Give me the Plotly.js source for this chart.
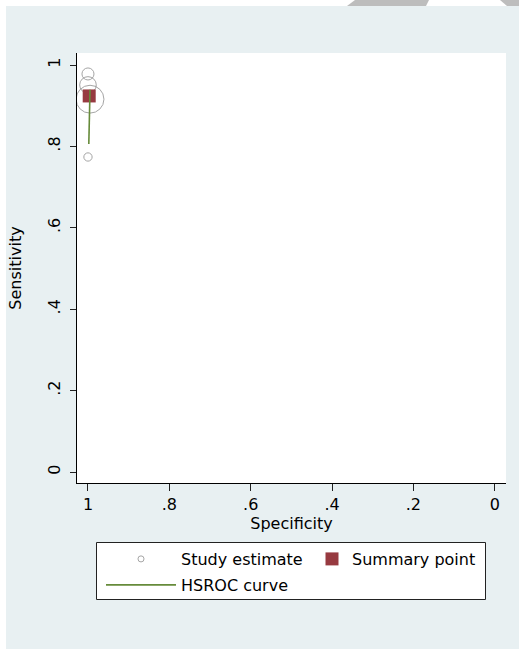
<!DOCTYPE html>
<html><head><meta charset="utf-8">
<script src="https://cdn.plot.ly/plotly-3.0.1.min.js"></script>
<style>html,body{margin:0;padding:0;background:#fff}</style>
</head><body><div id="chart" style="width:519px;height:649px"></div>
<script>
// ---- data ----
const studySpec = [1.0, 1.0, 0.995, 1.0];
const studySens = [0.978, 0.951, 0.916, 0.774];
const studyWeight = [4.5, 6.2, 10.4, 3.1];
const summarySpec = [0.997];
const summarySens = [0.924];
const curveSpec = [0.995, 0.998];
const curveSens = [0.939, 0.806];
const xTickVals = [1, 0.8, 0.6, 0.4, 0.2, 0];
const xTickText = ['1', '.8', '.6', '.4', '.2', '0'];
const yTickVals = [0, 0.2, 0.4, 0.6, 0.8, 1];
const yTickText = ['0', '.2', '.4', '.6', '.8', '1'];

// ---- layout helpers (pixel -> paper) ----
const W = 519, H = 649, ML = 77, MR = 13, MT = 53, MB = 166;
const PW = W - ML - MR, PH = H - MT - MB;
const fx = p => (p - ML) / PW;
const fy = p => (H - MB - p) / PH;
const FONT = 'DejaVu Sans';
const panel = '#e8f0f2';

const traces = [
  {
    type: 'scatter', mode: 'markers', name: 'Study estimate',
    x: studySpec, y: studySens,
    marker: { symbol: 'circle', size: studyWeight, sizemode: 'diameter', sizeref: 0.3735,
      color: 'rgba(0,0,0,0)', line: { color: '#808080', width: 1 } },
    legend: 'legend', hoverinfo: 'x+y'
  },
  {
    type: 'scatter', mode: 'markers', name: 'Summary point',
    x: summarySpec, y: summarySens,
    marker: { symbol: 'square', size: 13, color: '#973a40' },
    legend: 'legend2'
  },
  {
    type: 'scatter', mode: 'lines', name: 'HSROC curve',
    x: curveSpec, y: curveSens,
    line: { color: '#668b3a', width: 1.6 },
    legend: 'legend3'
  }
];

const legBase = {
  orientation: 'v', xanchor: 'left', yanchor: 'top',
  bgcolor: 'rgba(0,0,0,0)', borderwidth: 0,
  font: { family: FONT, size: 16, color: '#000' }
};

const layout = {
  width: W, height: H,
  margin: { l: ML, r: MR, t: MT, b: MB, pad: 0 },
  paper_bgcolor: panel, plot_bgcolor: '#ffffff',
  font: { family: FONT, size: 16, color: '#000' },
  showlegend: true,
  xaxis: {
    range: [1.027, -0.0276], tickvals: xTickVals, ticktext: xTickText,
    showgrid: false, zeroline: false, showline: true, linecolor: '#000', linewidth: 1,
    ticks: 'outside', ticklen: 7, tickwidth: 1, tickcolor: '#222',
    tickfont: { family: FONT, size: 16, color: '#000' },
    title: { text: 'Specificity', standoff: 0, font: { family: FONT, size: 16, color: '#000' } },
    automargin: false, fixedrange: true
  },
  yaxis: {
    range: [-0.027, 1.0295], tickvals: yTickVals, ticktext: yTickText, tickangle: -90,
    ticklabelstandoff: 4,
    showgrid: false, zeroline: false, showline: true, linecolor: '#000', linewidth: 1,
    ticks: 'outside', ticklen: 6, tickwidth: 1, tickcolor: '#222',
    tickfont: { family: FONT, size: 16, color: '#000' },
    title: { text: 'Sensitivity', standoff: 18, font: { family: FONT, size: 16, color: '#000' } },
    automargin: false, fixedrange: true
  },
  legend: Object.assign({}, legBase, { itemwidth: 70, x: fx(101), y: fy(542) }),
  legend2: Object.assign({}, legBase, { itemwidth: 30, x: fx(312), y: fy(542) }),
  legend3: Object.assign({}, legBase, { itemwidth: 70, x: fx(101), y: fy(568) }),
  shapes: [
    { type: 'rect', xref: 'paper', yref: 'paper', x0: fx(0), x1: fx(W), y0: fy(0), y1: fy(6),
      fillcolor: '#ffffff', line: { width: 0 }, layer: 'below' },
    { type: 'rect', xref: 'paper', yref: 'paper', x0: fx(0), x1: fx(6), y0: fy(0), y1: fy(H),
      fillcolor: '#ffffff', line: { width: 0 }, layer: 'below' },
    { type: 'path', xref: 'paper', yref: 'paper',
      path: `M${fx(347)},${fy(6)} L${fx(355)},${fy(0)} L${fx(429)},${fy(0)} L${fx(426)},${fy(6)} Z`,
      fillcolor: '#bdbdbd', line: { width: 0 }, layer: 'below' },
    { type: 'path', xref: 'paper', yref: 'paper',
      path: `M${fx(500)},${fy(0)} L${fx(W)},${fy(0)} L${fx(W)},${fy(6)} L${fx(507)},${fy(6)} Z`,
      fillcolor: '#bdbdbd', line: { width: 0 }, layer: 'below' },
    { type: 'rect', xref: 'paper', yref: 'paper', x0: fx(96.5), x1: fx(485.5), y0: fy(542.5), y1: fy(599.5),
      fillcolor: '#ffffff', line: { color: '#222', width: 1 }, layer: 'below' }
  ]
};

Plotly.newPlot('chart', traces, layout, { displayModeBar: false, staticPlot: true });
</script>
</body></html>
